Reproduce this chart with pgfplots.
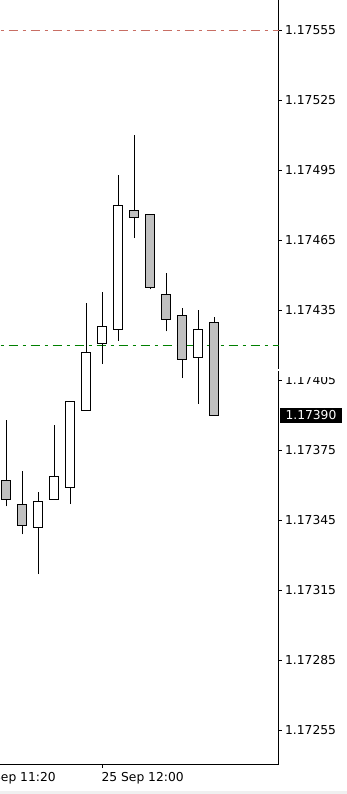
\documentclass[border=0pt]{standalone}
\usepackage{pgfplots}
\pgfplotsset{compat=1.18}
\usepackage{pgfplotstable}
\usepackage{fontspec}
\setmainfont{DejaVu Sans}
\definecolor{candlegray}{RGB}{192,192,192}
\definecolor{redlvl}{RGB}{200,110,100}
\definecolor{greenlvl}{RGB}{0,128,0}

% 5-minute candles, index 6 = 25 Sep 12:00
\pgfplotstableread{
i  O       H       L       C
0  1.17362 1.17388 1.17351 1.17354
1  1.17352 1.17366 1.17339 1.17343
2  1.17342 1.17357 1.17322 1.17353
3  1.17354 1.17386 1.17354 1.17364
4  1.17359 1.17396 1.17352 1.17396
5  1.17392 1.17438 1.17392 1.17417
6  1.17421 1.17443 1.17412 1.17428
7  1.17427 1.17493 1.17422 1.17480
8  1.17478 1.17510 1.17466 1.17475
9  1.17476 1.17476 1.17444 1.17445
10 1.17442 1.17451 1.17426 1.17431
11 1.17433 1.17436 1.17406 1.17414
12 1.17415 1.17435 1.17395 1.17427
13 1.17430 1.17432 1.17390 1.17390
}\candles

\begin{document}
\begin{tikzpicture}
\begin{axis}[
  scale only axis, width=314.24pt, height=765pt,
  at={(-35.3pt,29pt)}, anchor=south west,
  xmin=-2.6, xmax=17.04, ymin=1.1724021, ymax=1.1756807,
  axis x line=bottom, axis y line=right,
  axis line style={-, black, line width=1pt},
  tick align=outside, major tick length=3pt,
  tick style={black, line width=1pt},
  xtick={-2,6}, xticklabels={25 Sep 11:20, 25 Sep 12:00},
  ytick={1.17255,1.17285,1.17315,1.17345,1.17375,1.17405,1.17435,1.17465,1.17495,1.17525,1.17555},
  yticklabels={1.17255,1.17285,1.17315,1.17345,1.17375,1.17405,1.17435,1.17465,1.17495,1.17525,1.17555},
  tick label style={font=\fontsize{12.3}{14}\selectfont, text=black},
  xticklabel style={anchor=north west, inner sep=0pt, xshift=-0.9pt, yshift=-4.5pt},
  yticklabel style={anchor=west, inner sep=0pt, xshift=3pt},
  extra y ticks={1.17390}, extra y tick labels={1.17390},
  extra y tick style={major tick length=0pt,
    yticklabel style={fill=black, text=white, inner xsep=5.4pt, inner ysep=3.3pt,
      text height=9pt, text depth=0pt, xshift=-2pt}},
  /pgf/number format/assume math mode=true,
  no markers,
]
\addplot[redlvl, line width=1pt, dash pattern=on 9pt off 5pt on 3pt off 5pt, forget plot]
  coordinates {(-2.6,1.17555) (17.04,1.17555)};
\addplot[greenlvl, line width=1pt, dash pattern=on 9pt off 5pt on 3pt off 5pt, forget plot]
  coordinates {(-2.6,1.17420) (17.04,1.17420)};
\pgfplotsforeachungrouped \cidx in {0,...,13}{%
  \pgfplotstablegetelem{\cidx}{O}\of\candles \let\vO\pgfplotsretval
  \pgfplotstablegetelem{\cidx}{H}\of\candles \let\vH\pgfplotsretval
  \pgfplotstablegetelem{\cidx}{L}\of\candles \let\vL\pgfplotsretval
  \pgfplotstablegetelem{\cidx}{C}\of\candles \let\vC\pgfplotsretval
  \pgfmathsetmacro\xl{\cidx-0.29}%
  \pgfmathsetmacro\xr{\cidx+0.29}%
  \ifdim\vC pt>\vO pt \def\bodycol{white}\else\def\bodycol{candlegray}\fi
  \edef\tmp{%
    \noexpand\addplot[black, line width=1.1pt, forget plot]
      coordinates {(\cidx,\vL) (\cidx,\vH)};
    \noexpand\addplot[draw=black, fill=\bodycol, line width=1.1pt, line join=miter, forget plot]
      coordinates {(\xl,\vO) (\xr,\vO) (\xr,\vC) (\xl,\vC)} -- cycle;
  }%
  \tmp
}
\end{axis}
\pgfresetboundingbox
% the price scale's own overlap artefact: gap in the scale line, top of one label hidden
\fill[white] (278.3pt,423pt) rectangle (347pt,425pt);
\fill[white] (282pt,417pt) rectangle (347pt,425pt);
\fill[black!6] (0,0) rectangle (347pt,3pt);
\useasboundingbox (0,0) rectangle (347pt,794pt);
\end{tikzpicture}
\end{document}
